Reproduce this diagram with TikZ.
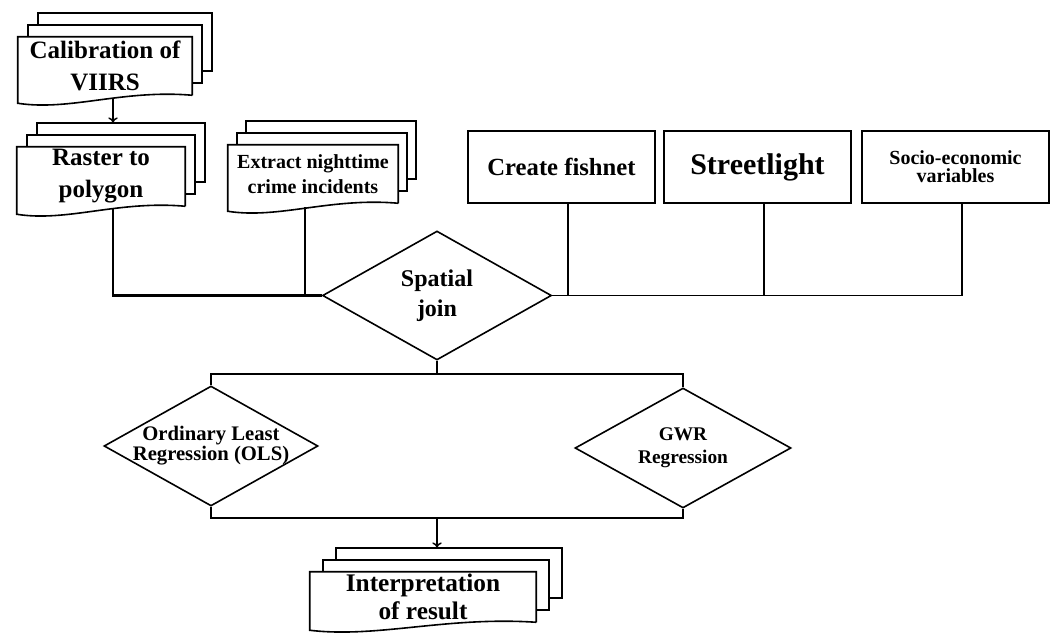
\documentclass[tikz,border=0pt]{standalone}
\usepackage{fontspec}
\setmainfont{Liberation Serif}
\usepackage{tikz}
\usetikzlibrary{arrows.meta,positioning,shapes.geometric,calc,backgrounds}
\newcommand{\px}{0.75pt}
\newcommand{\fs}[2]{\fontsize{#1}{#2}\selectfont\bfseries}
\tikzset{
  page/.style={draw,fill=white,line width=1.2pt},
  docfront/.style={inner sep=0pt,align=center},
  box/.style={draw,line width=1.3pt,minimum width=187*\px,minimum height=72*\px,align=center,inner sep=2pt},
  dia/.style={diamond,draw,line width=1.2pt,inner sep=0pt,aspect=1.8,align=center},
  link/.style={line width=1.1pt},
  arr/.style={link,-{To[length=4pt,width=7pt]}},
}
% three stacked pages behind node #1, shifted by #2 each
\newcommand{\docstack}[2]{%
  \begin{pgfonlayer}{background}
    \foreach \k in {2,1}
      \draw[page] ([shift={(\k*#2,-\k*12)}]#1.north west) rectangle ([shift={(\k*#2,-\k*12)}]#1.south east);
    \draw[page] (#1.south east) -- (#1.north east) -- (#1.north west) -- ([shift={(0,8)}]#1.south west)
      .. controls ($(#1.south west)!0.3!(#1.south east)+(0,16)$) and ($(#1.south west)!0.6!(#1.south east)+(0,-6)$) .. (#1.south east);
  \end{pgfonlayer}
  \coordinate (#1-top) at ([shift={(2*#2,-24)}]#1.north);
}

\begin{document}
\begin{tikzpicture}[x=\px,y=-\px]
\useasboundingbox (0,0) rectangle (1056,634);
% source layers
\node[docfront,minimum width=174*\px,minimum height=58*\px,font=\fs{18.75}{24}] (calib) at (105,66) {Calibration of\\VIIRS};
\docstack{calib}{10}
\node[docfront,minimum width=168*\px,minimum height=59*\px,font=\fs{18.75}{24}] (raster) at (101,176.5) {Raster to\\polygon};
\docstack{raster}{10}
\node[docfront,minimum width=170*\px,minimum height=58*\px,font=\fs{15}{19}] (extract) at (313,174) {Extract nighttime\\crime incidents};
\docstack{extract}{9}
\node[box,font=\fs{18.5}{22}] (fishnet) at (561.5,167) {Create fishnet};
\node[box,font=\fs{22.5}{26}] (street) at (757.5,167) {Streetlight};
\node[box,font=\fs{15}{13.5}] (socio) at (955.5,167) {Socio-economic\\variables};
% join and models
\node[dia,minimum width=229*\px,minimum height=129*\px,font=\fs{18}{22.5}] (sj) at (437,295.5) {Spatial\\join};
\node[dia,inner xsep=-7pt,minimum width=214*\px,minimum height=120*\px,font=\fs{15.5}{15}] (ols) at (211,446) {Ordinary Least\\Regression (OLS)};
\node[dia,minimum width=216*\px,minimum height=120*\px,font=\fs{14.5}{17}] (gwr) at (683,448) {GWR\\Regression};
\node[docfront,minimum width=226*\px,minimum height=50*\px,font=\fs{19}{21}] (interp) at (423,597) {Interpretation\\of result};
\docstack{interp}{13}
\coordinate (upsplit) at (437,374);
\coordinate (downjoin) at (437,518);
% connectors
\draw[arr] ([shift={(8,3)}]calib.south) coordinate (calout) -- (calout |- raster-top);
\draw[link,line width=1.7pt] ([shift={(12,2)}]raster.south) |- (sj.west);
\draw[link] ([shift={(-8,4)}]extract.south) coordinate (exout) -- (exout |- sj.west);
\draw[link] ([shift={(6.5,0)}]socio.south) |- (sj.east);
\foreach \b in {fishnet,street} {\draw[link] ([shift={(6.5,0)}]\b.south) coordinate (\b-out) -- (\b-out |- sj.east);}
\draw[link] (sj.south) -- (upsplit);
\draw[link] (ols.north) |- (upsplit) -| (gwr.north);
\draw[link] (ols.south) |- (downjoin) -| (gwr.south);
\draw[arr] (downjoin) -- (downjoin |- interp-top);
\end{tikzpicture}
\end{document}
